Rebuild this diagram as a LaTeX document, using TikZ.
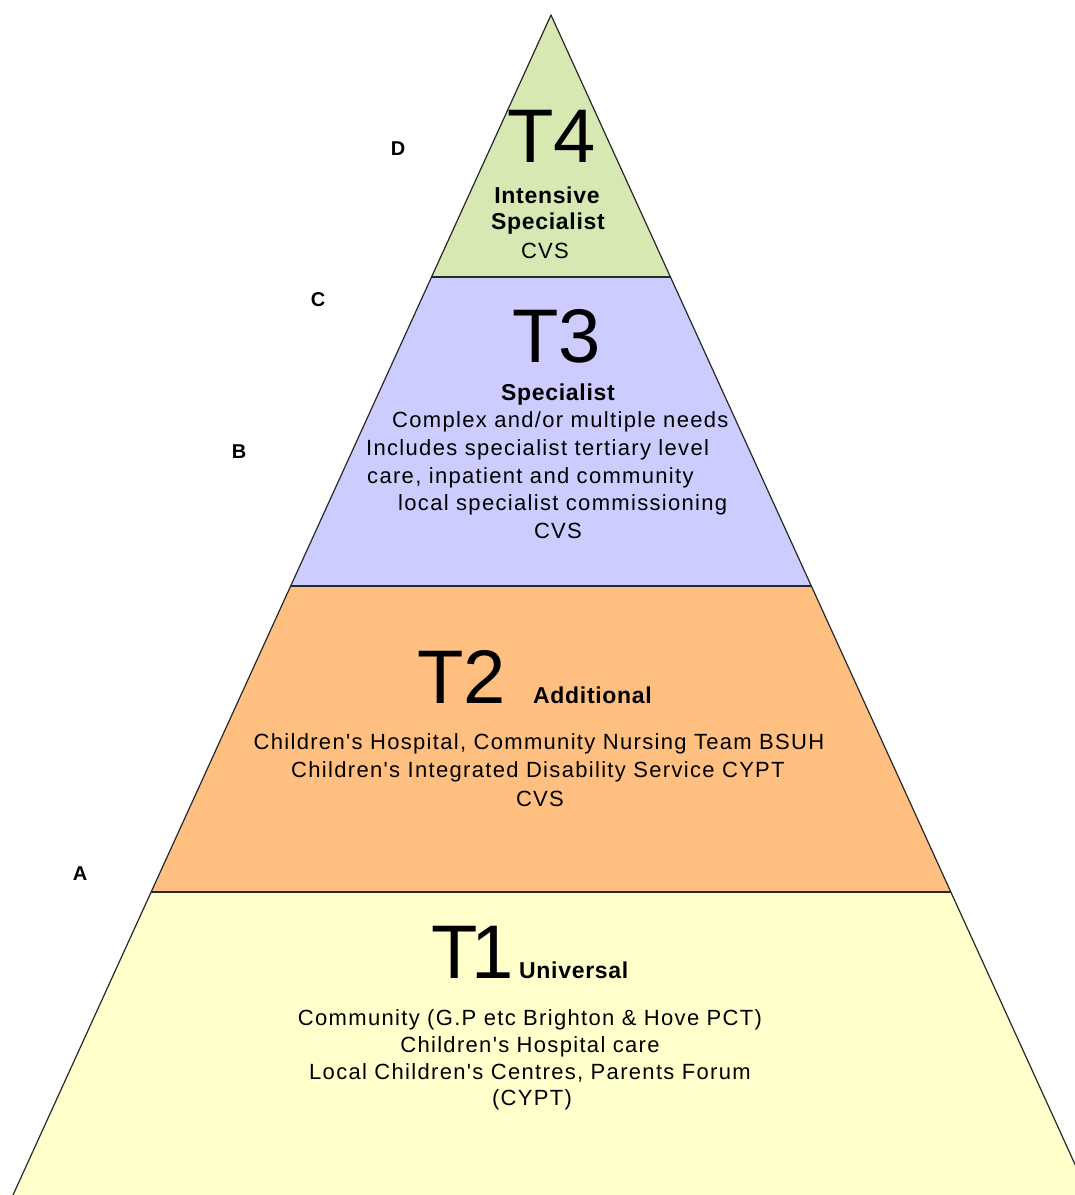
\documentclass[tikz,border=0pt]{standalone}
\usepackage{fontspec}
\setmainfont{Liberation Sans}
\newfontfamily\bodyfont[LetterSpace=6]{Liberation Sans}
\newfontfamily\namefont[LetterSpace=3]{Liberation Sans}

\usetikzlibrary{calc}

\definecolor{tierfour}{RGB}{215,232,178}
\definecolor{tierthree}{RGB}{204,204,255}
\definecolor{tiertwo}{RGB}{255,191,128}
\definecolor{tierone}{RGB}{255,255,204}
\definecolor{edgegray}{RGB}{40,40,40}

\tikzset{
  tiernum/.style={inner sep=0pt, anchor=base west, font=\fontsize{76}{76}\selectfont},
  tiername/.style={inner sep=0pt, anchor=base, font=\namefont\fontsize{23}{23}\selectfont\bfseries},
  tiertext/.style={inner sep=0pt, anchor=base, font=\bodyfont\fontsize{22}{22}\selectfont},
  letterlabel/.style={inner sep=0pt, font=\fontsize{20}{20}\selectfont\bfseries},
}

\begin{document}
\begin{tikzpicture}[x=1pt, y=-1pt]
\useasboundingbox (0,0) rectangle (1075,1195);
\clip (0,0) rectangle (1075,1195);

% pyramid corners and tier edges
\coordinate (apex) at (551,15);
\coordinate (bl) at (13,1195);
\coordinate (br) at (1089,1195);
\coordinate (l4) at ($(apex)!0.2220!(bl)$);
\coordinate (r4) at ($(apex)!0.2220!(br)$);
\coordinate (l3) at ($(apex)!0.4839!(bl)$);
\coordinate (r3) at ($(apex)!0.4839!(br)$);
\coordinate (l2) at ($(apex)!0.7432!(bl)$);
\coordinate (r2) at ($(apex)!0.7432!(br)$);

\fill[tierfour] (apex) -- (r4) -- (l4) -- cycle;
\fill[tierthree] (l4) -- (r4) -- (r3) -- (l3) -- cycle;
\fill[tiertwo] (l3) -- (r3) -- (r2) -- (l2) -- cycle;
\fill[tierone] (l2) -- (r2) -- (br) -- (bl) -- cycle;

\draw[edgegray, line width=1.8pt] (l4) -- (r4);
\draw[edgegray, line width=1.8pt] (l3) -- (r3);
\draw[edgegray, line width=1.8pt] (l2) -- (r2);
\draw[edgegray, line width=1.2pt, line join=round] (bl) -- (apex) -- (br);

% T4
\node[tiernum] (t4) at (507,162) {T4};
\node[tiername] (t4name) at (547,203) {Intensive};
\node[tiername] (t4name2) at (548,229) {Specialist};
\node[tiertext] (t4cvs) at (545,258) {CVS};

% T3
\node[tiernum] (t3) at (512,362) {T3};
\node[tiername] (t3name) at (558,400) {Specialist};
\node[tiertext, anchor=base west] (t3a) at (392,427) {Complex and/or multiple needs};
\node[tiertext, anchor=base west] (t3b) at (366,455) {Includes specialist tertiary level};
\node[tiertext, anchor=base west] (t3c) at (367,483) {care, inpatient and community};
\node[tiertext, anchor=base west] (t3d) at (398,510) {local specialist commissioning};
\node[tiertext] (t3cvs) at (558,538) {CVS};

% T2
\node[tiernum] (t2) at (417,703) {T2};
\node[tiername, anchor=base west] (t2name) at (533,703) {Additional};
\node[tiertext] (t2a) at (539,749) {Children's Hospital, Community Nursing Team BSUH};
\node[tiertext] (t2b) at (538,777) {Children's Integrated Disability Service CYPT};
\node[tiertext] (t2cvs) at (540,806) {CVS};

% T1
\node[tiernum] (t1) at (431,978) {T\kern-6pt1};
\node[tiername, anchor=base west] (t1name) at (519,978) {Universal};
\node[tiertext] (t1a) at (530,1025) {Community (G.P etc Brighton \& Hove PCT)};
\node[tiertext] (t1b) at (530,1052) {Children's Hospital care};
\node[tiertext] (t1c) at (530,1079) {Local Children's Centres, Parents Forum};
\node[tiertext] (t1d) at (532,1105) {(CYPT)};

% side letters
\node[letterlabel] (lblD) at (398,149) {D};
\node[letterlabel] (lblC) at (318,300) {C};
\node[letterlabel] (lblB) at (239,452) {B};
\node[letterlabel] (lblA) at (80,874) {A};
\end{tikzpicture}
\end{document}
